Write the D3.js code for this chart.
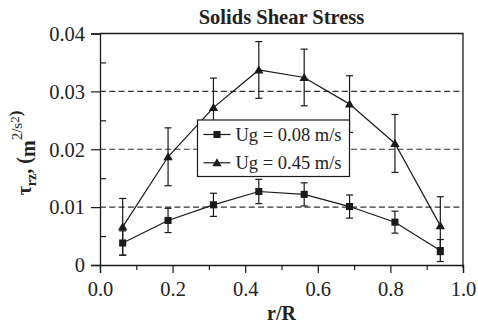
<!DOCTYPE html>
<html>
<head>
<meta charset="utf-8">
<script src="https://cdn.jsdelivr.net/npm/d3@7"></script>
<style>
  html, body { margin: 0; padding: 0; background: #fff; }
  svg { display: block; }
  text { font-family: "Liberation Serif", "Times New Roman", serif; fill: #222; }
</style>
</head>
<body>
<svg id="chart" width="478" height="322"></svg>
<script>
// ---- data ----
const rR = [0.0625, 0.1875, 0.3125, 0.4375, 0.5625, 0.6875, 0.8125, 0.9375];
const seriesNames = ["Ug = 0.08 m/s", "Ug = 0.45 m/s"];
const ug008 = [0.0038, 0.0077, 0.0104, 0.0127, 0.0122, 0.0101, 0.0074, 0.0025];
const err008 = [0.0021, 0.0021, 0.0020, 0.0021, 0.0020, 0.0020, 0.0019, 0.0019];
const ug045 = [0.0066, 0.0187, 0.0272, 0.0337, 0.0324, 0.0278, 0.0210, 0.0068];
const err045 = [0.0049, 0.0050, 0.0051, 0.0049, 0.0049, 0.0049, 0.0050, 0.0050];
const xTicks = [0, 0.2, 0.4, 0.6, 0.8, 1.0];
const xTickLabels = ["0.0", "0.2", "0.4", "0.6", "0.8", "1.0"];
const xMinor = [0.1, 0.3, 0.5, 0.7, 0.9];
const yTicks = [0, 0.01, 0.02, 0.03, 0.04];
const yTickLabels = ["0", "0.01", "0.02", "0.03", "0.04"];
const yMinor = [0.005, 0.015, 0.025, 0.035];
const gridVals = [0.01, 0.02, 0.03];
const title = "Solids Shear Stress";
const xTitle = "r/R";

// ---- layout ----
const L = 100, R = 463, T = 33.5, B = 265;
const ink = "#1a1a1a";
const svg = d3.select("#chart");
const x = d3.scaleLinear().domain([0, 1]).range([L, R]);
const y = d3.scaleLinear().domain([0, 0.04]).range([B, T]);

// gridlines
svg.append("g").selectAll("line").data(gridVals).join("line")
  .attr("x1", L).attr("x2", R)
  .attr("y1", d => y(d)).attr("y2", d => y(d))
  .attr("stroke", "#333").attr("stroke-width", 1.1)
  .attr("stroke-dasharray", "6,3.3");

// frame top/right
svg.append("line").attr("x1", L).attr("x2", R + 0.5).attr("y1", y(0.04)).attr("y2", y(0.04))
  .attr("stroke", ink).attr("stroke-width", 1.3);
svg.append("line").attr("x1", R).attr("x2", R).attr("y1", y(0.04)).attr("y2", B + 3)
  .attr("stroke", ink).attr("stroke-width", 1.3);

// axes
const fontTick = "20.5px";
const yAxis = svg.append("g").attr("transform", `translate(${L},0)`)
  .call(d3.axisLeft(y).tickValues(yTicks).tickSize(9).tickPadding(6)
    .tickFormat((d, i) => yTickLabels[i]));
const yAxisMinor = svg.append("g").attr("transform", `translate(${L},0)`)
  .call(d3.axisLeft(y).tickValues(yMinor).tickSizeInner(-6).tickSizeOuter(0).tickFormat(""));
const xAxis = svg.append("g").attr("transform", `translate(0,${B})`)
  .call(d3.axisBottom(x).tickValues(xTicks).tickSize(8).tickPadding(8)
    .tickFormat((d, i) => xTickLabels[i]));
const xAxisMinor = svg.append("g").attr("transform", `translate(0,${B})`)
  .call(d3.axisBottom(x).tickValues(xMinor).tickSizeInner(5).tickSizeOuter(0).tickFormat(""));
[yAxis, yAxisMinor, xAxis, xAxisMinor].forEach(g => {
  g.attr("font-family", null);
  g.select(".domain").attr("stroke", ink).attr("stroke-width", 1.3);
  g.selectAll(".tick line").attr("stroke", ink).attr("stroke-width", 1.2);
  g.selectAll(".tick text").attr("font-family", "Liberation Serif, serif")
    .attr("font-size", fontTick).attr("fill", "#222");
});
yAxisMinor.select(".domain").remove();
xAxisMinor.select(".domain").remove();
yAxis.selectAll(".tick text").attr("dy", "0.33em");

// series
const series = [
  { vals: ug008, errs: err008, shape: d3.symbolSquare, size: 50 },
  { vals: ug045, errs: err045, shape: d3.symbolTriangle, size: 38 }
];
const line = d3.line().x(d => x(d[0])).y(d => y(d[1]));
series.forEach(s => {
  const pts = rR.map((r, i) => [r, s.vals[i], s.errs[i]]);
  const g = svg.append("g");
  g.append("path").attr("d", line(pts)).attr("fill", "none")
    .attr("stroke", ink).attr("stroke-width", 1.2);
  const eb = g.selectAll("g.eb").data(pts).join("g");
  eb.append("line").attr("x1", d => x(d[0])).attr("x2", d => x(d[0]))
    .attr("y1", d => y(d[1] - d[2])).attr("y2", d => y(d[1] + d[2]))
    .attr("stroke", ink).attr("stroke-width", 1.2);
  [-1, 1].forEach(sg => {
    eb.append("line").attr("x1", d => x(d[0]) - 3.5).attr("x2", d => x(d[0]) + 3.5)
      .attr("y1", d => y(d[1] + sg * d[2])).attr("y2", d => y(d[1] + sg * d[2]))
      .attr("stroke", ink).attr("stroke-width", 1.2);
  });
  g.selectAll("path.m").data(pts).join("path").attr("class", "m")
    .attr("d", d3.symbol().type(s.shape).size(s.size))
    .attr("transform", d => `translate(${x(d[0])},${y(d[1]) + (s.shape === d3.symbolTriangle ? 0.8 : 0)})`)
    .attr("fill", ink);
});

// legend
const lg = svg.append("g");
lg.append("rect").attr("x", 197.5).attr("y", 120).attr("width", 152).attr("height", 56.5)
  .attr("fill", "#fff").attr("stroke", ink).attr("stroke-width", 1.2);
seriesNames.forEach((name, i) => {
  const cy = 134.5 + i * 28.3;
  lg.append("line").attr("x1", 203.5).attr("x2", 230.5).attr("y1", cy).attr("y2", cy)
    .attr("stroke", ink).attr("stroke-width", 1.2);
  lg.append("path").attr("d", d3.symbol().type(series[i].shape).size(series[i].size))
    .attr("transform", `translate(217,${cy + (i === 1 ? 0.8 : 0)})`).attr("fill", ink);
  lg.append("text").attr("x", 235.5).attr("y", cy).attr("dy", "0.33em")
    .attr("font-size", "18.5px").text(name);
});

// titles
svg.append("text").attr("x", (L + R) / 2).attr("y", 24).attr("text-anchor", "middle")
  .attr("font-size", "20.5px").attr("font-weight", "bold").text(title);
svg.append("text").attr("x", (L + R) / 2).attr("y", 319.5).attr("text-anchor", "middle")
  .attr("font-size", "20px").attr("font-weight", "bold").text(xTitle);

// y title
const yt = svg.append("text").attr("transform", "translate(31,153) rotate(-90)")
  .attr("text-anchor", "middle").attr("font-size", "20px").attr("font-weight", "bold");
yt.append("tspan").text("τ");
yt.append("tspan").attr("font-size", "14px").attr("dy", 5).text("rz");
yt.append("tspan").attr("dy", -5).text(", (");
yt.append("tspan").attr("dy", 4).text("m");
yt.append("tspan").attr("font-size", "15px").attr("font-weight", "normal").attr("dy", -13).text("2/s");
yt.append("tspan").attr("font-size", "13px").attr("font-weight", "normal").attr("dy", -3).text("2");
yt.append("tspan").attr("font-size", "17px").attr("dy", 2).text(")");
</script>
</body>
</html>
